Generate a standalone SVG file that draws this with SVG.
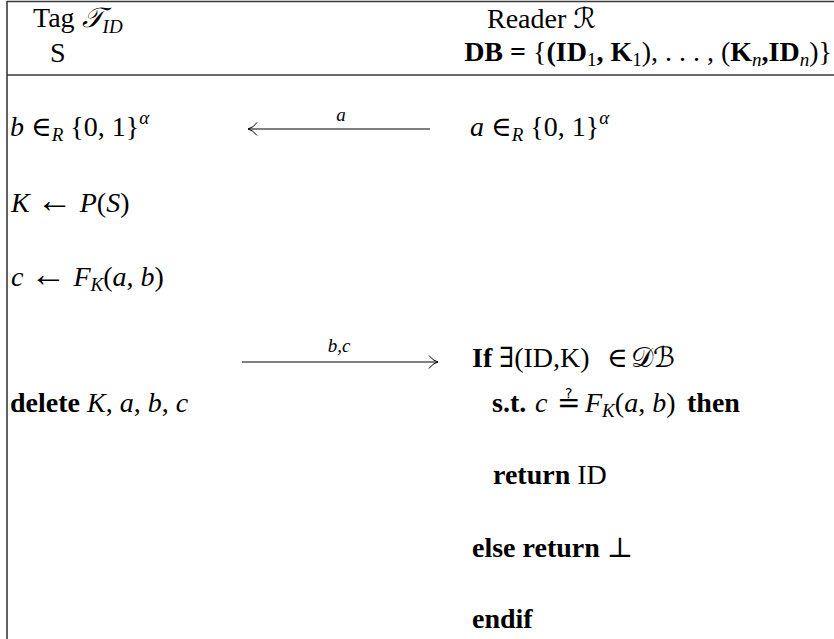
<svg xmlns="http://www.w3.org/2000/svg" width="834" height="639" viewBox="0 0 834 639">
<style>
text{font-family:"Liberation Serif","DejaVu Serif","DejaVu Sans",serif;font-size:28px;fill:#000}
.i{font-style:italic}
.b{font-weight:bold}
.s{font-size:19px}
.ar{font-size:36px}
.lbl{font-size:19px;font-style:italic}
.frame{stroke:#3a3a3a;stroke-width:1.6;fill:none}
.arr{stroke:#000;stroke-width:1;fill:none}
</style>
<rect width="834" height="639" fill="#fff"/>
<g id="frame">
<line class="frame" x1="7" y1="1.5" x2="834" y2="1.5"/>
<line class="frame" x1="7" y1="1" x2="7" y2="639"/>
<line class="frame" x1="7" y1="75" x2="834" y2="75"/>
</g>
<g id="tag-header">
<text x="33" y="27">Tag <tspan class="i">𝒯</tspan><tspan class="i s" dy="6">ID</tspan></text>
<text x="50" y="62">S</text>
</g>
<g id="reader-header">
<text x="487" y="28">Reader <tspan>ℛ</tspan></text>
<text x="832" y="61" text-anchor="end"><tspan class="b">DB = </tspan>{<tspan class="b">(ID</tspan><tspan class="s" dy="5">1</tspan><tspan class="b" dy="-5">, K</tspan><tspan class="s" dy="5">1</tspan><tspan dy="-5">), . . . , (</tspan><tspan class="b">K</tspan><tspan class="s i" dy="5">n</tspan><tspan class="b" dy="-5">,ID</tspan><tspan class="s i" dy="5">n</tspan><tspan dy="-5">)}</tspan></text>
</g>
<g id="tag-b">
<text x="10" y="136"><tspan class="i">b</tspan> ∈<tspan class="s i" dy="5">R</tspan><tspan dy="-5"> {0, 1}</tspan><tspan class="s i" dy="-12">α</tspan></text>
</g>
<g id="reader-a">
<text x="470" y="136"><tspan class="i">a</tspan> ∈<tspan class="s i" dy="5">R</tspan><tspan dy="-5"> {0, 1}</tspan><tspan class="s i" dy="-12">α</tspan></text>
</g>
<g id="tag-k">
<text x="11" y="212"><tspan class="i">K</tspan> <tspan class="ar">←</tspan> <tspan class="i">P</tspan>(<tspan class="i">S</tspan>)</text>
</g>
<g id="tag-c">
<text x="11" y="286"><tspan class="i">c</tspan> <tspan class="ar">←</tspan> <tspan class="i">F</tspan><tspan class="s i" dy="5">K</tspan><tspan dy="-5">(</tspan><tspan class="i">a</tspan>, <tspan class="i">b</tspan>)</text>
</g>
<g id="tag-delete">
<text x="10" y="412"><tspan class="b">delete</tspan> <tspan class="i">K</tspan>, <tspan class="i">a</tspan>, <tspan class="i">b</tspan>, <tspan class="i">c</tspan></text>
</g>
<g id="reader-if">
<text x="472" y="367"><tspan class="b">If</tspan><tspan x="499">∃(ID,K)</tspan><tspan x="607">∈</tspan><tspan x="631">𝒟ℬ</tspan></text>
</g>
<g id="reader-st">
<text x="492" y="412"><tspan class="b">s.t.</tspan><tspan class="i" x="535">c</tspan><tspan x="557">≟</tspan><tspan class="i" x="585">F</tspan><tspan class="s i" dy="5">K</tspan><tspan dy="-5">(</tspan><tspan class="i">a</tspan>, <tspan class="i">b</tspan>)<tspan class="b" x="687">then</tspan></text>
</g>
<g id="reader-return">
<text x="493" y="484"><tspan class="b">return</tspan> ID</text>
</g>
<g id="reader-else">
<text x="472" y="557"><tspan class="b">else return</tspan> ⊥</text>
</g>
<g id="reader-endif">
<text x="472" y="628" class="b">endif</text>
</g>
<g id="connectors">
<line class="arr" x1="248" y1="129" x2="430" y2="129"/>
<path class="arr" d="M257,122.5 Q253,128 248,129 Q253,130 257,135.5"/>
<text x="341" y="121" text-anchor="middle" class="lbl">a</text>
<line class="arr" x1="242" y1="362" x2="438" y2="362"/>
<path class="arr" d="M429,355.5 Q433,361 438,362 Q433,363 429,368.5"/>
<text x="339" y="352" text-anchor="middle" class="lbl">b,c</text>
</g>
</svg>
